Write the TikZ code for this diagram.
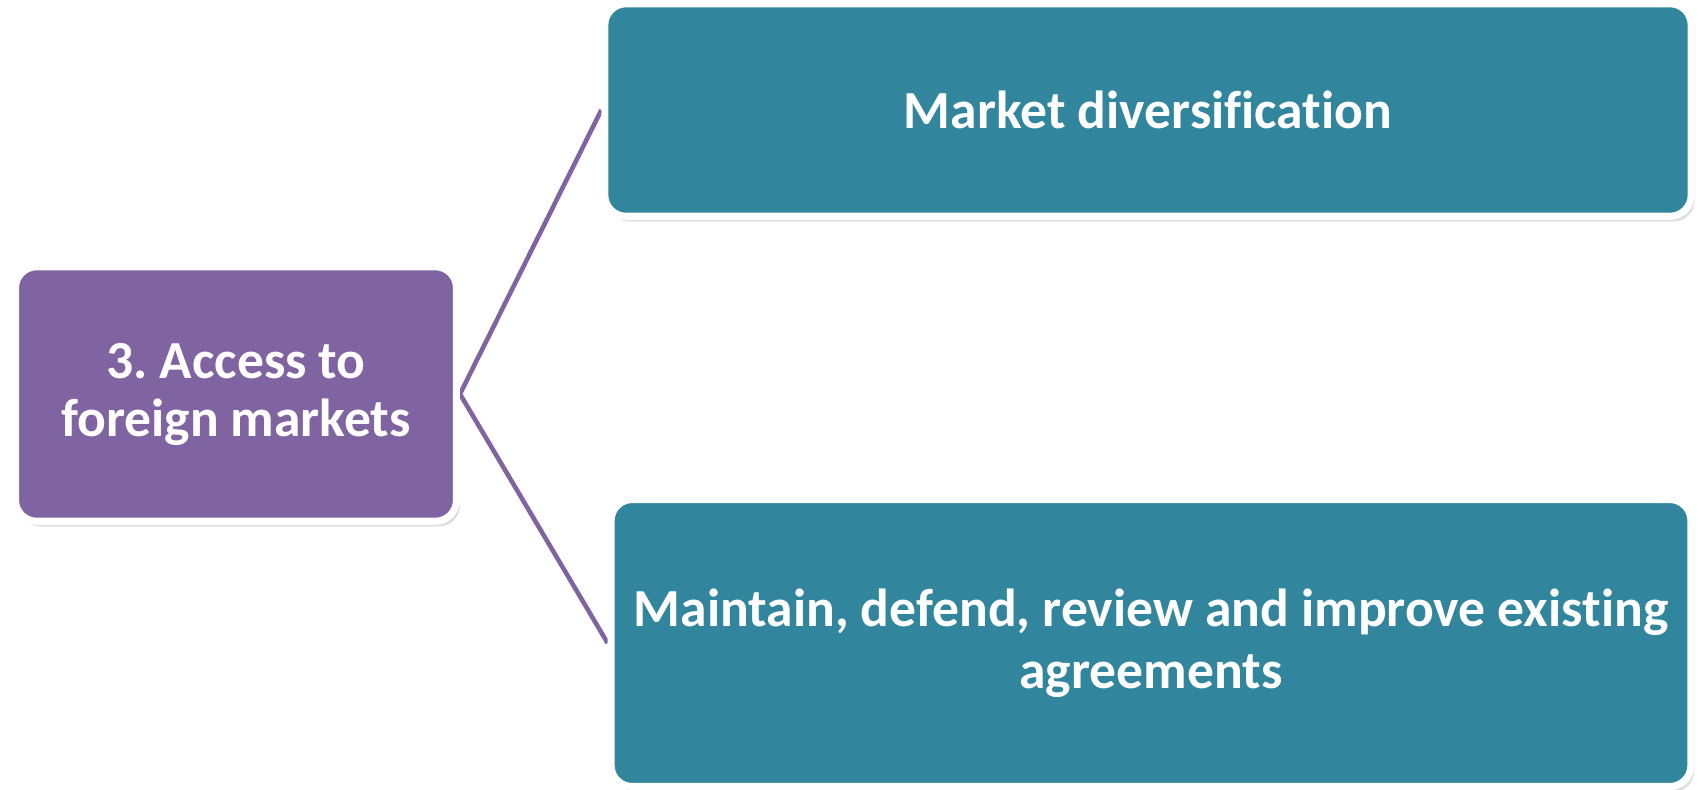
\documentclass[tikz,border=0pt]{standalone}
\usepackage{fontspec}
\setmainfont{Carlito}[Ligatures=NoCommon]
\usepackage{xcolor}
\usetikzlibrary{positioning,shadows,backgrounds}
\frenchspacing

\definecolor{topicpurple}{HTML}{8064A2}
\definecolor{itemteal}{HTML}{31859C}

\begin{document}
\begin{tikzpicture}[x=0.02cm, y=-0.02cm]
    \tikzset{
      topic/.style = {rectangle, rounded corners=12pt, minimum width=8.82cm, minimum height=5.09cm, align=center, draw=white, line width=4pt, fill=topicpurple, text=white, font=\bfseries\fontsize{30.5}{33}\selectfont, drop shadow={opacity=0.25, shadow xshift=2pt, shadow yshift=-3pt}},
      item/.style = {rectangle, rounded corners=12pt, align=center, draw=white, line width=4pt, fill=itemteal, text=white, font=\bfseries\fontsize{30.5}{35}\selectfont, drop shadow={opacity=0.25, shadow xshift=2pt, shadow yshift=-3pt}},
      link/.style = {draw=topicpurple, line width=2.6pt}
    }
    \useasboundingbox (0,0) rectangle (1699,789);

    \node (access) [topic] at (236,394) {3. Access to\\foreign markets};
    \node (divers) [item, minimum width=21.73cm, minimum height=4.25cm] at (1148,110) {Market diversification};
    \node (agree) [item, minimum width=21.6cm, minimum height=5.74cm] at (1151,643) {Maintain, defend, review and improve existing\\agreements};

    \begin{scope}[on background layer]
      \draw [link] (access.east) -- (divers.west);
      \draw [link] (access.east) -- (agree.west);
    \end{scope}
\end{tikzpicture}
\end{document}
